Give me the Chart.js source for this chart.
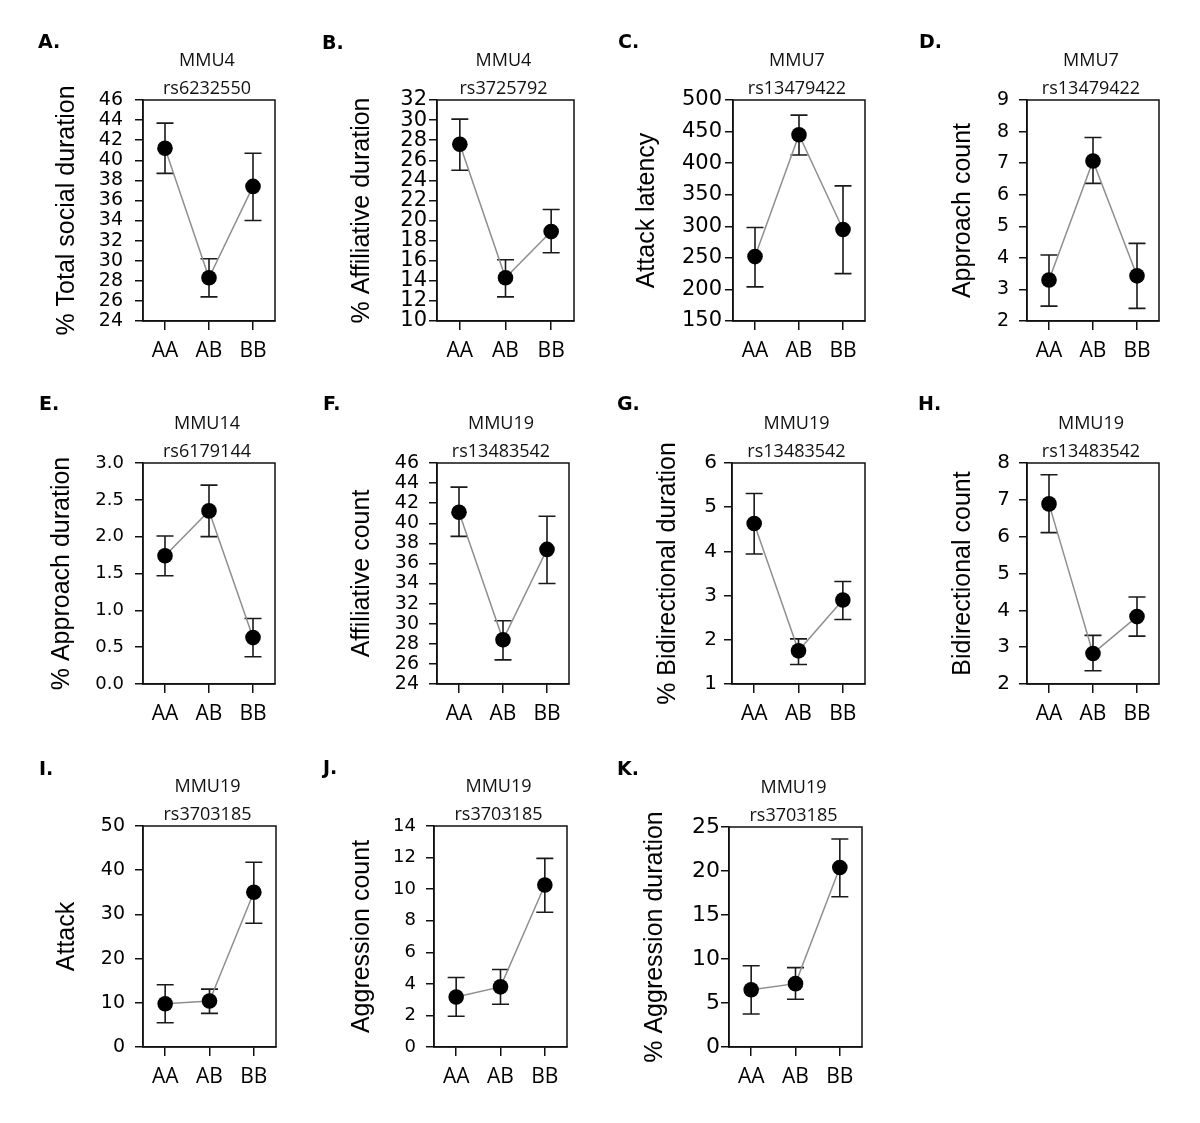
<!DOCTYPE html>
<html>
<head>
<meta charset="utf-8">
<script src="https://cdn.jsdelivr.net/npm/chart.js@4.4.1/dist/chart.umd.min.js"></script>
<style>
    body { margin: 0; background: #fff; }
    #page { position: relative; width: 1200px; height: 1123px; overflow: hidden; }
    canvas { position: absolute; }
    .letter { position: absolute; font: bold 19px "DejaVu Sans", sans-serif; color: #000; line-height: 22px; }
    .title { position: absolute; width: 200px; text-align: center; font: 18px "Open Sans", sans-serif; color: #111; line-height: 24px; }
</style>
</head>
<body>
<div id="page"></div>
<script>
// Genotype groups on every x axis
const genotypes = ["AA", "AB", "BB"];

// Panel text
const panelLetters = ["A.", "B.", "C.", "D.", "E.", "F.", "G.", "H.", "I.", "J.", "K."];
const chromosomes = ["MMU4", "MMU4", "MMU7", "MMU7", "MMU14", "MMU19", "MMU19", "MMU19", "MMU19", "MMU19", "MMU19"];
const markers = ["rs6232550", "rs3725792", "rs13479422", "rs13479422", "rs6179144", "rs13483542",
                 "rs13483542", "rs13483542", "rs3703185", "rs3703185", "rs3703185"];
const traitLabels = ["% Total social duration", "% Affiliative duration", "Attack latency", "Approach count",
                     "% Approach duration", "Affiliative count", "% Bidirectional duration", "Bidirectional count",
                     "Attack", "Aggression count", "% Aggression duration"];

// Y axis ticks
const axisMin = [24, 10, 150, 2, 0, 24, 1, 2, 0, 0, 0];
const axisMax = [46, 32, 500, 9, 3, 46, 6, 8, 50, 14, 25];
const axisStep = [2, 2, 50, 1, 0.5, 2, 1, 1, 10, 2, 5];
const tickDecimals = [0, 0, 0, 0, 1, 0, 0, 0, 0, 0, 0];

// Means and error bar ends (AA, AB, BB)
const totalSocialMean = [41.2, 28.3, 37.4];
const totalSocialLow = [38.7, 26.4, 34.0];
const totalSocialHigh = [43.7, 30.2, 40.7];

const affiliativeDurMean = [27.6, 14.3, 18.9];
const affiliativeDurLow = [25.0, 12.4, 16.8];
const affiliativeDurHigh = [30.1, 16.1, 21.1];

const attackLatencyMean = [252, 445, 295];
const attackLatencyLow = [204, 413, 225];
const attackLatencyHigh = [298, 476, 364];

const approachCountMean = [3.30, 7.07, 3.43];
const approachCountLow = [2.47, 6.36, 2.40];
const approachCountHigh = [4.09, 7.81, 4.46];

const approachDurMean = [1.74, 2.35, 0.63];
const approachDurLow = [1.47, 2.00, 0.37];
const approachDurHigh = [2.01, 2.70, 0.89];

const affiliativeCountMean = [41.1, 28.4, 37.4];
const affiliativeCountLow = [38.7, 26.4, 34.0];
const affiliativeCountHigh = [43.6, 30.3, 40.7];

const bidirDurMean = [4.63, 1.75, 2.90];
const bidirDurLow = [3.94, 1.44, 2.46];
const bidirDurHigh = [5.31, 2.02, 3.32];

const bidirCountMean = [6.89, 2.83, 3.83];
const bidirCountLow = [6.11, 2.36, 3.30];
const bidirCountHigh = [7.68, 3.32, 4.36];

const attackMean = [9.8, 10.4, 35.0];
const attackLow = [5.5, 7.6, 28.0];
const attackHigh = [14.1, 13.1, 41.8];

const aggressionCountMean = [3.17, 3.81, 10.26];
const aggressionCountLow = [1.95, 2.71, 8.54];
const aggressionCountHigh = [4.40, 4.91, 11.95];

const aggressionDurMean = [6.5, 7.2, 20.4];
const aggressionDurLow = [3.75, 5.42, 17.08];
const aggressionDurHigh = [9.24, 9.02, 23.64];

const means = [totalSocialMean, affiliativeDurMean, attackLatencyMean, approachCountMean, approachDurMean,
               affiliativeCountMean, bidirDurMean, bidirCountMean, attackMean, aggressionCountMean, aggressionDurMean];
const lows = [totalSocialLow, affiliativeDurLow, attackLatencyLow, approachCountLow, approachDurLow,
              affiliativeCountLow, bidirDurLow, bidirCountLow, attackLow, aggressionCountLow, aggressionDurLow];
const highs = [totalSocialHigh, affiliativeDurHigh, attackLatencyHigh, approachCountHigh, approachDurHigh,
               affiliativeCountHigh, bidirDurHigh, bidirCountHigh, attackHigh, aggressionCountHigh, aggressionDurHigh];

// Layout: plot boxes [left, top, right, bottom], y title centre, gap between tick labels and axis, tick font size
const plotBoxes = [
    [143, 100, 275, 321], [437, 100, 574, 321], [733, 100, 865, 321], [1027, 100, 1159, 321],
    [143, 463, 275, 684], [437, 463, 569, 684], [732, 463, 865, 684], [1027, 463, 1159, 684],
    [143, 826, 276, 1047], [434, 826, 567, 1047], [729, 827, 862, 1047]
];
const yTitleX = [67, 362, 647, 963, 62, 362, 668, 963, 67, 362, 655];
const tickGap = [20, 10, 11, 18, 19, 18, 15, 17, 18, 18, 9];
const tickFontSize = [19, 21, 21, 19, 18, 19, 20, 20, 19, 18, 22];
const letterPos = [[38, 41], [322, 42], [618, 41], [919, 41], [39, 403], [323, 403], [617, 403], [918, 403],
                   [39, 768], [323, 767], [617, 768]];

const CANVAS_W = 300;
const CANVAS_H = 380;
const page = document.getElementById("page");

// Draw error bars below the points
function errorBarPlugin(low, high) {
    return {
        id: "errorBars",
        beforeDatasetsDraw(chart) {
            const { ctx, scales: { x, y } } = chart;
            ctx.save();
            ctx.strokeStyle = "#1a1a1a";
            ctx.lineWidth = 1.6;
            low.forEach((lo, i) => {
                const px = x.getPixelForValue(i);
                const yLo = y.getPixelForValue(lo);
                const yHi = y.getPixelForValue(high[i]);
                ctx.beginPath();
                ctx.moveTo(px, yLo); ctx.lineTo(px, yHi);
                ctx.moveTo(px - 8.5, yLo); ctx.lineTo(px + 8.5, yLo);
                ctx.moveTo(px - 8.5, yHi); ctx.lineTo(px + 8.5, yHi);
                ctx.stroke();
            });
            ctx.restore();
        }
    };
}

// Box around the plot area
const frameBox = {
    id: "frameBox",
    afterDraw(chart) {
        const { ctx, chartArea: a } = chart;
        ctx.save();
        ctx.strokeStyle = "#111";
        ctx.lineWidth = 1.5;
        ctx.strokeRect(a.left, a.top, a.right - a.left, a.bottom - a.top);
        ctx.restore();
    }
};

function addText(cls, text, left, top) {
    const div = document.createElement("div");
    div.className = cls;
    div.textContent = text;
    div.style.left = left + "px";
    div.style.top = top + "px";
    page.appendChild(div);
}

function drawPanel(i) {
    const box = plotBoxes[i];
    const cx = Math.floor(i % 4) * 300;
    const cy = box[1] - 100;

    const canvas = document.createElement("canvas");
    canvas.width = CANVAS_W;
    canvas.height = CANVAS_H;
    canvas.style.left = cx + "px";
    canvas.style.top = cy + "px";
    page.appendChild(canvas);

    const dec = tickDecimals[i];

    new Chart(canvas, {
        type: "line",
        data: {
            labels: genotypes,
            datasets: [{
                data: means[i],
                borderColor: "#8f8f8f",
                borderWidth: 1.5,
                pointRadius: 7.8,
                pointBackgroundColor: "#000",
                pointBorderWidth: 0,
                tension: 0
            }]
        },
        options: {
            responsive: false,
            animation: false,
            layout: { padding: { left: 0, top: box[1] - cy, right: cx + CANVAS_W - box[2], bottom: 0 } },
            plugins: { legend: { display: false }, tooltip: { enabled: false } },
            scales: {
                x: {
                    offset: true,
                    grid: { offset: false, drawOnChartArea: false, drawTicks: true, tickLength: 9, color: "#111", lineWidth: 1.5 },
                    border: { display: true, color: "#111", width: 1.5 },
                    ticks: { padding: 8, color: "#000", font: { family: "'Open Sans'", size: 21 } },
                    afterFit(s) { s.height = cy + CANVAS_H - box[3]; }
                },
                y: {
                    min: axisMin[i],
                    max: axisMax[i],
                    grid: { drawOnChartArea: false, drawTicks: true, tickLength: 8, color: "#111", lineWidth: 1.5 },
                    border: { display: true, color: "#111", width: 1.5 },
                    ticks: {
                        stepSize: axisStep[i],
                        autoSkip: false,
                        padding: tickGap[i] - 8,
                        color: "#000",
                        font: { family: "'DejaVu Sans'", size: tickFontSize[i] },
                        callback: v => Number(v).toFixed(dec)
                    },
                    title: {
                        display: true,
                        text: traitLabels[i],
                        color: "#000",
                        font: { family: "'Liberation Sans'", size: 25 },
                        padding: { top: yTitleX[i] - cx - 15, bottom: 0 }
                    },
                    afterFit(s) { s.width = box[0] - cx; }
                }
            }
        },
        plugins: [errorBarPlugin(lows[i], highs[i]), frameBox]
    });

    const mid = (box[0] + box[2]) / 2 - 2;
    addText("title", chromosomes[i], mid - 100, box[1] - 41 - 12);
    addText("title", markers[i], mid - 100, box[1] - 13 - 12);
    addText("letter", panelLetters[i], letterPos[i][0], letterPos[i][1] - 11);
}

Promise.all([
    document.fonts.load("21px 'Open Sans'"),
    document.fonts.load("19px 'DejaVu Sans'"),
    document.fonts.load("25px 'Liberation Sans'")
]).catch(() => {}).then(() => {
    for (let i = 0; i < means.length; i++) drawPanel(i);
});
</script>
</body>
</html>
